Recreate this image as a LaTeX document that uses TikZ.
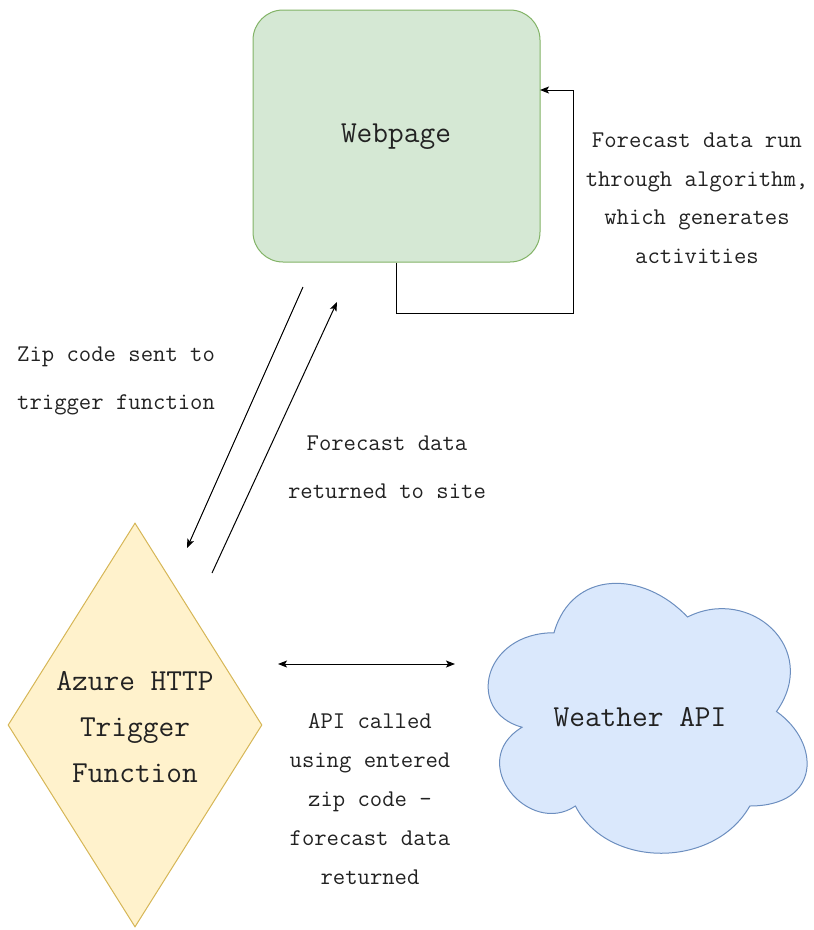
\documentclass[tikz,border=0pt]{standalone}
\usepackage{fontspec}
\usetikzlibrary{shapes.geometric,arrows.meta}
\definecolor{gfill}{HTML}{D5E8D4}\definecolor{gline}{HTML}{82B366}
\definecolor{yfill}{HTML}{FFF2CC}\definecolor{yline}{HTML}{D6B656}
\definecolor{bfill}{HTML}{DAE8FC}\definecolor{bline}{HTML}{6C8EBF}
\definecolor{txt}{HTML}{222222}
\tikzset{
  arr/.style={draw=black,line width=1pt,-{Stealth[length=9pt,width=7pt,inset=2pt]}},
  darr/.style={draw=black,line width=1pt,{Stealth[length=9pt,width=7pt,inset=2pt]}-{Stealth[length=9pt,width=7pt,inset=2pt]}},
  small/.style={text=txt,inner sep=0pt,font=\ttfamily\fontsize{24}{38.5}\selectfont,align=center},
  big/.style={text=txt,inner sep=0pt,font=\ttfamily\fontsize{30.5}{46}\selectfont,align=center}
}
\begin{document}
\begin{tikzpicture}[x=1pt,y=-1pt]
\useasboundingbox (0,0) rectangle (814,930);
% Webpage
\node[draw=gline,fill=gfill,line width=1pt,rounded corners=30pt,minimum width=287pt,minimum height=252pt,inner sep=0pt] (wp) at (396.5,136) {};
\node[big] (wpt) at (396,137) {Webpage};
% Diamond
\node[draw=yline,fill=yfill,line width=1pt,diamond,minimum width=254pt,minimum height=404pt,inner sep=0pt] (az) at (135,725) {};
\node[big] (azt) at (135,727) {Azure HTTP\\Trigger\\Function};
% Cloud
\path[draw=bline,fill=bfill,line width=1pt] (554,632.75)
  .. controls (482.8,632.75) and (465,711.5) .. (522,727.25)
  .. controls (465,761.9) and (529.1,837.5) .. (575.4,806)
  .. controls (607.4,869) and (714.2,869) .. (749.8,806)
  .. controls (821,806) and (821,743) .. (776.5,711.5)
  .. controls (821,648.5) and (749.8,585.5) .. (687.5,617)
  .. controls (643,569.75) and (571.8,569.75) .. (554,632.75) -- cycle;
\coordinate (cl) at (640,717);
\node[big] (clt) at (cl) {Weather API};
% loop arrow
\coordinate (lb) at (573,313);
\coordinate (wpin) at (540,90);
\draw[arr] (wp.south) |- (lb) |- (wpin);
\node[small] (lp) at (697,198) {Forecast data run\\through algorithm,\\which generates\\activities};
% diagonal arrows
\coordinate (a1s) at (303,287); \coordinate (a1e) at (187,548);
\coordinate (a2s) at (212,573); \coordinate (a2e) at (337,302);
\draw[arr] (a1s) -- (a1e);
\draw[arr] (a2s) -- (a2e);
\node[small,align=left,anchor=west,font=\ttfamily\fontsize{24}{48}\selectfont] (zl) at (17,381) {Zip code sent to\\trigger function};
\node[small,font=\ttfamily\fontsize{24}{48}\selectfont] (fl) at (387,467) {Forecast data\\returned to site};
% horizontal arrow
\coordinate (h1) at (278,664); \coordinate (h2) at (455,664);
\draw[darr] (h1) -- (h2);
\node[small,font=\ttfamily\fontsize{24}{39}\selectfont] (al) at (370,799) {API called\\using entered\\zip code -\\forecast data\\returned};
\end{tikzpicture}
\end{document}
